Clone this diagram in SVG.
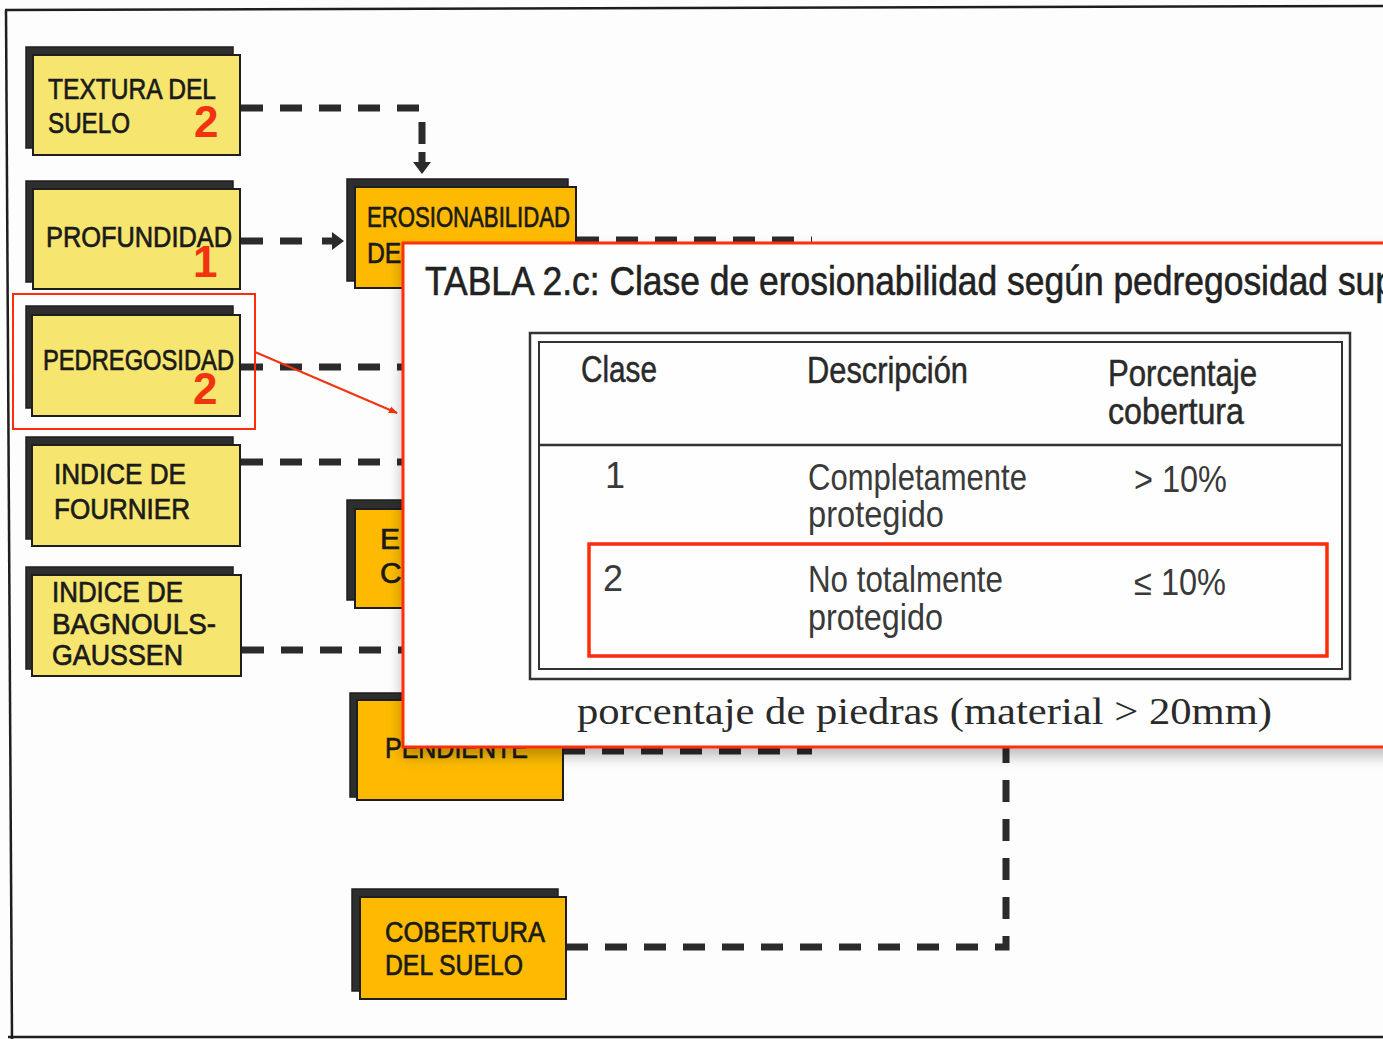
<svg xmlns="http://www.w3.org/2000/svg" xmlns:xlink="http://www.w3.org/1999/xlink" width="1383" height="1039" viewBox="0 0 1383 1039">
  <style>
    .sh { fill: #2e2e2e; stroke: #1e1e1e; stroke-width: 1.5; }
    .yl { fill: #f6e56e; stroke: #1e1e1e; stroke-width: 2; }
    .or { fill: #fdba00; stroke: #1e1e1e; stroke-width: 2; }
    .lbl { font-family: "Liberation Sans", Arial, sans-serif; font-size: 30px; fill: #1a1a1a; stroke: #1a1a1a; stroke-width: 0.7; }
    .num { font-family: "Liberation Sans", Arial, sans-serif; font-size: 44px; font-weight: bold; fill: #f2330f; }
    .dash { fill: none; stroke: #2b2b2b; stroke-width: 7; stroke-dasharray: 22 17; }
    .ah { fill: #2b2b2b; }
    .hl { fill: none; stroke: #ff2d0a; }
    .ttl { font-family: "Liberation Sans", Arial, sans-serif; font-size: 41px; fill: #222; stroke: #222; stroke-width: 0.6; }
    .th { font-family: "Liberation Sans", Arial, sans-serif; font-size: 36px; fill: #2a2a2a; stroke: #2a2a2a; stroke-width: 0.5; }
    .td { font-family: "Liberation Sans", Arial, sans-serif; font-size: 36px; fill: #3a3a3a; }
    .cap { font-family: "Liberation Serif", "Times New Roman", serif; font-size: 38px; fill: #2a2a2a; }
    .tb { fill: none; stroke: #333; }
  </style>
  <defs>
    <path id="arrowhead" d="M-22,-3.5 H-12 V-9 L0,0 L-12,9 V3.5 H-22 Z"/>
    <marker id="redtip" viewBox="0 0 10 10" refX="9" refY="5" markerWidth="9" markerHeight="9" markerUnits="userSpaceOnUse" orient="auto">
      <path d="M0,1 L10,5 L0,9 Z" fill="#f2330f"/>
    </marker>
    <filter id="popshadow" x="-5%" y="-5%" width="115%" height="120%">
      <feDropShadow dx="0" dy="8" stdDeviation="7" flood-color="#000" flood-opacity="0.25"/>
    </filter>
  </defs>

  <!-- page background and frame -->
  <rect x="0" y="0" width="1383" height="1039" fill="#fdfdfd"/>
  <g fill="none" stroke="#1e1e1e" stroke-width="2.5">
    <line x1="5" y1="10" x2="1383" y2="6"/>
    <line x1="6" y1="10" x2="12" y2="1039"/>
    <line x1="8" y1="1037" x2="1383" y2="1037"/>
  </g>

  <!-- connectors -->
  <g id="connectors">
    <path class="dash" d="M241,108 H422 V150"/>
    <use xlink:href="#arrowhead" class="ah" transform="translate(422,174) rotate(90)"/>
    <path class="dash" d="M241,241 H315"/>
    <use xlink:href="#arrowhead" class="ah" transform="translate(344,241)"/>
    <path class="dash" d="M241,367 H430"/>
    <path class="dash" d="M241,462 H430"/>
    <path class="dash" d="M242,650 H430"/>
    <path class="dash" d="M577,240 H812"/>
    <path class="dash" d="M563,751 H812"/>
    <path class="dash" d="M566,947 H1006 V740"/>
    <line x1="255" y1="352" x2="397" y2="413" stroke="#f2330f" stroke-width="2" marker-end="url(#redtip)"/>
  </g>

  <!-- input factors -->
  <g id="node-textura">
    <rect class="sh" x="26" y="47" width="207" height="101"/>
    <rect class="yl" x="33" y="55" width="207" height="100"/>
    <text class="lbl" x="48" y="99" textLength="168" lengthAdjust="spacingAndGlyphs">TEXTURA DEL</text>
    <text class="lbl" x="48" y="133" textLength="82" lengthAdjust="spacingAndGlyphs">SUELO</text>
    <text class="num" x="194" y="137">2</text>
  </g>
  <g id="node-profundidad">
    <rect class="sh" x="26" y="181" width="207" height="101"/>
    <rect class="yl" x="33" y="189" width="207" height="100"/>
    <text class="lbl" x="46" y="247" textLength="186" lengthAdjust="spacingAndGlyphs">PROFUNDIDAD</text>
    <text class="num" x="193" y="277">1</text>
  </g>
  <g id="node-pedregosidad">
    <rect class="sh" x="26" y="306" width="207" height="102"/>
    <rect class="yl" x="32" y="315" width="208" height="101"/>
    <text class="lbl" x="43" y="370" textLength="191" lengthAdjust="spacingAndGlyphs">PEDREGOSIDAD</text>
    <text class="num" x="193" y="404">2</text>
    <rect class="hl" x="13" y="294" width="242" height="135" stroke-width="2"/>
  </g>
  <g id="node-fournier">
    <rect class="sh" x="26" y="437" width="207" height="102"/>
    <rect class="yl" x="32" y="445" width="208" height="101"/>
    <text class="lbl" x="54" y="484" textLength="132" lengthAdjust="spacingAndGlyphs">INDICE DE</text>
    <text class="lbl" x="54" y="519" textLength="136" lengthAdjust="spacingAndGlyphs">FOURNIER</text>
  </g>
  <g id="node-bagnouls">
    <rect class="sh" x="26" y="567" width="207" height="102"/>
    <rect class="yl" x="32" y="575" width="209" height="101"/>
    <text class="lbl" x="52" y="602" textLength="131" lengthAdjust="spacingAndGlyphs">INDICE DE</text>
    <text class="lbl" x="52" y="634" textLength="164" lengthAdjust="spacingAndGlyphs">BAGNOULS-</text>
    <text class="lbl" x="52" y="665" textLength="131" lengthAdjust="spacingAndGlyphs">GAUSSEN</text>
  </g>

  <!-- intermediate factors -->
  <g id="node-erosionabilidad">
    <rect class="sh" x="347" y="179" width="221" height="102"/>
    <rect class="or" x="355" y="187" width="221" height="101"/>
    <text class="lbl" x="367" y="227" textLength="203" lengthAdjust="spacingAndGlyphs">EROSIONABILIDAD</text>
    <text class="lbl" x="367" y="263" textLength="138" lengthAdjust="spacingAndGlyphs">DEL SUELO</text>
  </g>
  <g id="node-er">
    <rect class="sh" x="347" y="500" width="100" height="100"/>
    <rect class="or" x="355" y="509" width="100" height="99"/>
    <text class="lbl" x="380" y="549">ER</text>
    <text class="lbl" x="380" y="583">CL</text>
  </g>
  <g id="node-pendiente">
    <rect class="sh" x="350" y="693" width="206" height="104"/>
    <rect class="or" x="357" y="700" width="206" height="100"/>
    <text class="lbl" x="385" y="758" textLength="143" lengthAdjust="spacingAndGlyphs">PENDIENTE</text>
  </g>
  <g id="node-cobertura">
    <rect class="sh" x="352" y="889" width="206" height="102"/>
    <rect class="or" x="360" y="897" width="206" height="102"/>
    <text class="lbl" x="385" y="942" textLength="160" lengthAdjust="spacingAndGlyphs">COBERTURA</text>
    <text class="lbl" x="385" y="975" textLength="138" lengthAdjust="spacingAndGlyphs">DEL SUELO</text>
  </g>

  <!-- callout: table 2.c -->
  <g id="table-callout">
    <rect x="403" y="243" width="1010" height="504" fill="#fefefe" stroke="#ff2d0a" stroke-width="3" filter="url(#popshadow)"/>
    <text class="ttl" x="425" y="295" textLength="970" lengthAdjust="spacingAndGlyphs">TABLA 2.c: Clase de erosionabilidad según pedregosidad sup</text>
    <rect class="tb" x="530" y="333" width="820" height="346" stroke-width="2.5"/>
    <rect class="tb" x="539" y="342" width="803" height="327" stroke-width="2"/>
    <line class="tb" x1="539" y1="445" x2="1342" y2="445" stroke-width="2.5"/>
    <text class="th" x="581" y="382" textLength="76" lengthAdjust="spacingAndGlyphs">Clase</text>
    <text class="th" x="807" y="383" textLength="161" lengthAdjust="spacingAndGlyphs">Descripción</text>
    <text class="th" x="1108" y="386" textLength="149" lengthAdjust="spacingAndGlyphs">Porcentaje</text>
    <text class="th" x="1108" y="424" textLength="136" lengthAdjust="spacingAndGlyphs">cobertura</text>
    <text class="td" x="605" y="488">1</text>
    <text class="td" x="808" y="490" textLength="219" lengthAdjust="spacingAndGlyphs">Completamente</text>
    <text class="td" x="808" y="527" textLength="136" lengthAdjust="spacingAndGlyphs">protegido</text>
    <text class="td" x="1134" y="492" textLength="93" lengthAdjust="spacingAndGlyphs">&gt; 10%</text>
    <text class="td" x="603" y="591">2</text>
    <text class="td" x="808" y="592" textLength="195" lengthAdjust="spacingAndGlyphs">No totalmente</text>
    <text class="td" x="808" y="630" textLength="135" lengthAdjust="spacingAndGlyphs">protegido</text>
    <text class="td" x="1134" y="595" textLength="92" lengthAdjust="spacingAndGlyphs">≤ 10%</text>
    <rect class="hl" x="589" y="544" width="738" height="112" stroke-width="3.5"/>
    <text class="cap" x="577" y="724" textLength="695" lengthAdjust="spacingAndGlyphs">porcentaje de piedras (material &gt; 20mm)</text>
  </g>
</svg>
